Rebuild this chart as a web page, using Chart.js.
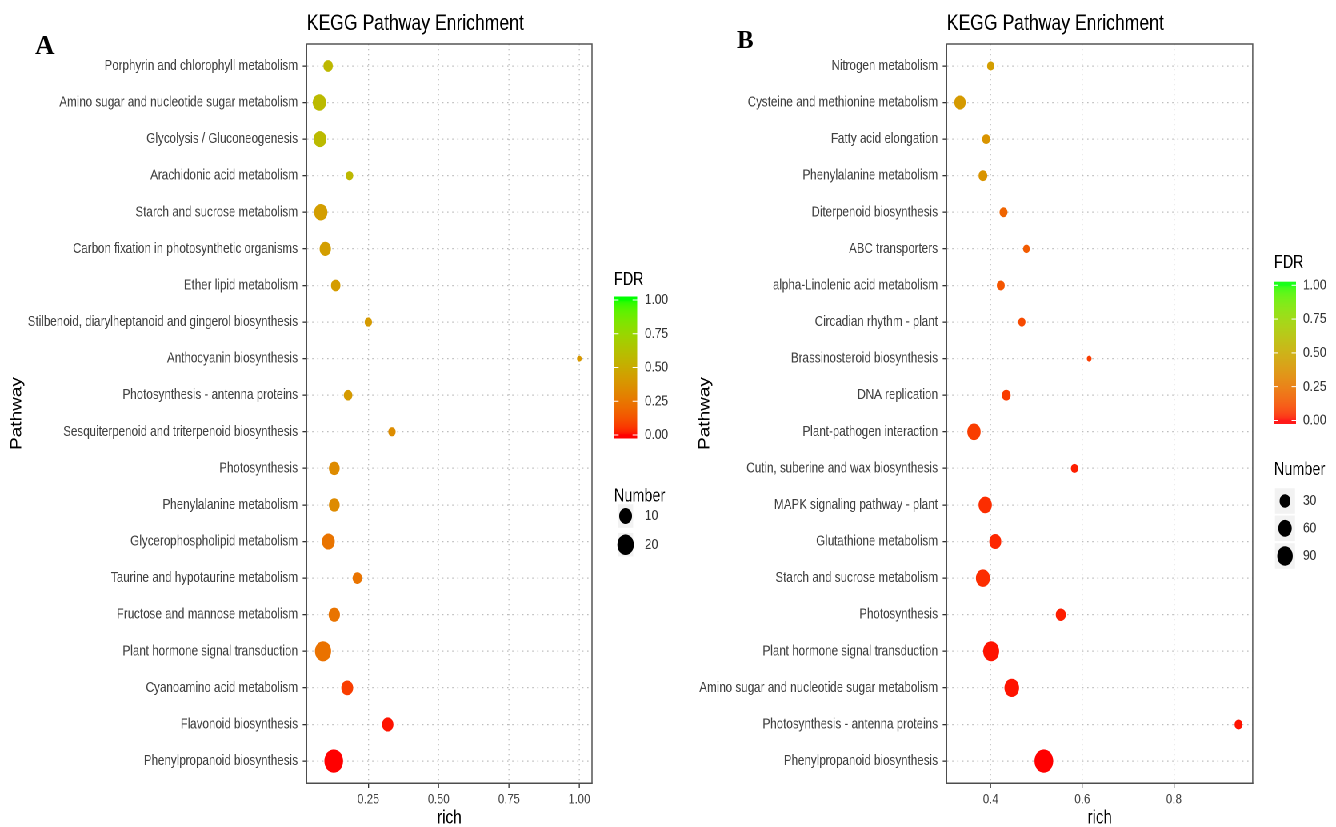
<!DOCTYPE html>
<html>
<head>
<meta charset="utf-8">
<script src="https://cdn.jsdelivr.net/npm/chart.js@4.4.1/dist/chart.umd.min.js"></script>
<style>
html,body{margin:0;padding:0;background:#fff;overflow:hidden;width:1336px;height:827px;}
#stage{position:absolute;left:0;top:0;width:1670px;height:827px;transform:scaleX(0.8);transform-origin:0 0;}
#cA{position:absolute;left:0;top:0;width:860px;height:827px;}
#cB{position:absolute;left:860px;top:0;width:810px;height:827px;}
.tag{position:absolute;font-family:"Liberation Serif","Times New Roman",serif;font-weight:bold;color:#000;line-height:1;}
</style>
</head>
<body>
<div id="stage">
  <canvas id="cA" width="860" height="827"></canvas>
  <canvas id="cB" width="810" height="827"></canvas>
</div>
<div class="tag" style="left:35px;top:32.4px;font-size:27px;">A</div>
<div class="tag" style="left:737px;top:27.3px;font-size:25px;">B</div>
<script>
// ---------------- DATA ----------------
const pathwaysA = [
  "Porphyrin and chlorophyll metabolism",
  "Amino sugar and nucleotide sugar metabolism",
  "Glycolysis / Gluconeogenesis",
  "Arachidonic acid metabolism",
  "Starch and sucrose metabolism",
  "Carbon fixation in photosynthetic organisms",
  "Ether lipid metabolism",
  "Stilbenoid, diarylheptanoid and gingerol biosynthesis",
  "Anthocyanin biosynthesis",
  "Photosynthesis - antenna proteins",
  "Sesquiterpenoid and triterpenoid biosynthesis",
  "Photosynthesis",
  "Phenylalanine metabolism",
  "Glycerophospholipid metabolism",
  "Taurine and hypotaurine metabolism",
  "Fructose and mannose metabolism",
  "Plant hormone signal transduction",
  "Cyanoamino acid metabolism",
  "Flavonoid biosynthesis",
  "Phenylpropanoid biosynthesis"
];
const richA   = [0.107, 0.076, 0.078, 0.183, 0.081, 0.097, 0.134, 0.250, 1.000, 0.178, 0.334, 0.129, 0.129, 0.108, 0.211, 0.129, 0.089, 0.175, 0.319, 0.127];
const numberA = [4, 11, 10, 2, 11, 7, 4, 2, 1, 3, 2, 6, 6, 10, 4, 7, 19, 8, 7, 28];
const fdrA    = [0.57, 0.58, 0.58, 0.57, 0.43, 0.43, 0.42, 0.41, 0.40, 0.41, 0.35, 0.34, 0.34, 0.24, 0.24, 0.24, 0.23, 0.07, 0.01, 0.00];

const pathwaysB = [
  "Nitrogen metabolism",
  "Cysteine and methionine metabolism",
  "Fatty acid elongation",
  "Phenylalanine metabolism",
  "Diterpenoid biosynthesis",
  "ABC transporters",
  "alpha-Linolenic acid metabolism",
  "Circadian rhythm - plant",
  "Brassinosteroid biosynthesis",
  "DNA replication",
  "Plant-pathogen interaction",
  "Cutin, suberine and wax biosynthesis",
  "MAPK signaling pathway - plant",
  "Glutathione metabolism",
  "Starch and sucrose metabolism",
  "Photosynthesis",
  "Plant hormone signal transduction",
  "Amino sugar and nucleotide sugar metabolism",
  "Photosynthesis - antenna proteins",
  "Phenylpropanoid biosynthesis"
];
const richB   = [0.400, 0.333, 0.390, 0.383, 0.428, 0.478, 0.422, 0.468, 0.615, 0.434, 0.3635, 0.583, 0.388, 0.410, 0.383, 0.553, 0.401, 0.446, 0.941, 0.516];
const numberB = [7, 35, 10, 14, 10, 5, 10, 7, 2, 14, 58, 7, 58, 42, 67, 23, 98, 77, 10, 150];
const fdrB    = [0.43, 0.41, 0.38, 0.38, 0.18, 0.15, 0.13, 0.10, 0.07, 0.07, 0.07, 0.02, 0.04, 0.03, 0.04, 0.02, 0.01, 0.01, 0.01, 0.00];

const xTicksA = [0.25, 0.50, 0.75, 1.00];
const xTickLabelsA = ["0.25", "0.50", "0.75", "1.00"];
const xTicksB = [0.4, 0.6, 0.8];
const xTickLabelsB = ["0.4", "0.6", "0.8"];
const fdrTicks = [0, 0.25, 0.5, 0.75, 1];
const fdrTickLabels = ["0.00", "0.25", "0.50", "0.75", "1.00"];
const sizeKeysA = [10, 20];
const sizeKeysB = [30, 60, 90];
const chartTitle = "KEGG Pathway Enrichment";

// ---------------- HELPERS ----------------
Chart.defaults.font.family = '"Liberation Sans", Arial, Helvetica, sans-serif';

function srgbToLin(c){c/=255;return c<=0.04045?c/12.92:Math.pow((c+0.055)/1.055,2.4);}
function linToSrgb(c){c=Math.max(0,Math.min(1,c));return 255*(c<=0.0031308?12.92*c:1.055*Math.pow(c,1/2.4)-0.055);}
const Xn=0.95047,Yn=1,Zn=1.08883;
function rgb2lab(r,g,b){
  const R=srgbToLin(r),G=srgbToLin(g),B=srgbToLin(b);
  const X=0.4124564*R+0.3575761*G+0.1804375*B, Y=0.2126729*R+0.7151522*G+0.0721750*B, Z=0.0193339*R+0.1191920*G+0.9503041*B;
  const f=t=>t>216/24389?Math.cbrt(t):(24389/27*t+16)/116;
  const fx=f(X/Xn),fy=f(Y/Yn),fz=f(Z/Zn);
  return [116*fy-16,500*(fx-fy),200*(fy-fz)];
}
function lab2rgb(L,a,b){
  const fy=(L+16)/116,fx=fy+a/500,fz=fy-b/200;
  const inv=t=>t*t*t>216/24389?t*t*t:(116*t-16)/(24389/27);
  const X=Xn*inv(fx),Y=Yn*inv(fy),Z=Zn*inv(fz);
  const R=3.2404542*X-1.5371385*Y-0.4985314*Z, G=-0.9692660*X+1.8760108*Y+0.0415560*Z, B=0.0556434*X-0.2040259*Y+1.0572252*Z;
  return [linToSrgb(R),linToSrgb(G),linToSrgb(B)].map(Math.round);
}
const LOW_LAB=rgb2lab(255,0,0), HIGH_LAB=rgb2lab(0,255,0);
function fdrColor(t){
  t=Math.max(0,Math.min(1,t));
  const l=LOW_LAB.map((v,i)=>v+(HIGH_LAB[i]-v)*t);
  const c=lab2rgb(l[0],l[1],l[2]);
  return `rgb(${c[0]},${c[1]},${c[2]})`;
}
const D_MIN = 5.9, D_MAX = 23.4;
function sizeScale(vmin, vmax){
  return n => (D_MIN + (D_MAX - D_MIN) * Math.sqrt(Math.max(0,(n - vmin)/(vmax - vmin)))) / 2;
}

const panelDecor = {
  id: 'panelDecor',
  afterDraw(chart, args, o) {
    const {ctx, chartArea: ca} = chart;
    ctx.save();
    ctx.strokeStyle = '#555'; ctx.lineWidth = 1.5; ctx.setLineDash([]);
    ctx.beginPath(); ctx.moveTo(ca.left, ca.top); ctx.lineTo(ca.right, ca.top); ctx.lineTo(ca.right, ca.bottom); ctx.stroke();
    ctx.fillStyle = '#000'; ctx.textAlign = 'left'; ctx.textBaseline = 'middle';
    ctx.font = '22px "Liberation Sans", Arial, sans-serif';
    ctx.fillText(o.title, ca.left, o.titleY);
    const L = o.legend;
    ctx.font = '18px "Liberation Sans", Arial, sans-serif';
    ctx.fillText('FDR', L.left, L.fdrTitleY);
    const h = L.barBottom - L.barTop, inset = h / 40;
    for (let yy = 0; yy < Math.ceil(h); yy++) {
      const v = 1 - ((yy + 0.5) - inset) / (h - 2 * inset);
      ctx.fillStyle = fdrColor(v);
      ctx.fillRect(L.left, L.barTop + yy, L.barW, Math.min(1.05, h - yy));
    }
    ctx.strokeStyle = '#fff'; ctx.lineWidth = 1;
    ctx.font = '15px "Liberation Sans", Arial, sans-serif';
    fdrTicks.forEach((v, i) => {
      const ty = L.barBottom - inset - v * (h - 2 * inset);
      ctx.beginPath();
      ctx.moveTo(L.left, ty); ctx.lineTo(L.left + L.barW / 5, ty);
      ctx.moveTo(L.left + L.barW * 4 / 5, ty); ctx.lineTo(L.left + L.barW, ty);
      ctx.stroke();
      ctx.fillStyle = '#333';
      ctx.fillText(fdrTickLabels[i], L.labelX, ty);
    });
    ctx.fillStyle = '#000';
    ctx.font = '18px "Liberation Sans", Arial, sans-serif';
    ctx.fillText('Number', L.left, L.numTitleY);
    const cx = L.left + L.barW / 2;
    ctx.font = '15px "Liberation Sans", Arial, sans-serif';
    o.keys.forEach((k, i) => {
      const cy = L.keyYs[i];
      ctx.fillStyle = '#f2f2f2';
      ctx.fillRect(cx - L.keyW / 2, cy - L.keyH / 2, L.keyW, L.keyH);
      ctx.fillStyle = '#000';
      ctx.beginPath(); ctx.arc(cx, cy, o.radius(k), 0, Math.PI * 2); ctx.fill();
      ctx.fillStyle = '#333';
      ctx.fillText(String(k), L.labelX, cy);
    });
    ctx.restore();
  }
};

function makeChart(canvas, cfg) {
  const n = cfg.labels.length;
  const radius = sizeScale(Math.min(...cfg.numbers), Math.max(...cfg.numbers));
  const data = cfg.labels.map((lab, i) => ({x: cfg.rich[i], y: i, n: cfg.numbers[i], fdr: cfg.fdr[i]}));
  return new Chart(canvas, {
    type: 'scatter',
    data: {datasets: [{
      data,
      pointRadius: c => radius(c.raw.n),
      pointHoverRadius: c => radius(c.raw.n),
      backgroundColor: c => fdrColor(c.raw.fdr),
      pointBorderWidth: 0,
      borderWidth: 0
    }]},
    options: {
      responsive: false, animation: false, events: [], devicePixelRatio: 2,
      layout: {padding: {left: 0, right: cfg.padRight, top: 44, bottom: 0}},
      plugins: {
        legend: {display: false}, tooltip: {enabled: false},
        panelDecor: {title: chartTitle, titleY: 24, legend: cfg.legend, keys: cfg.keys, radius}
      },
      scales: {
        x: {
          type: 'linear', min: cfg.xMin, max: cfg.xMax,
          afterBuildTicks: s => { s.ticks = cfg.xTicks.map(v => ({value: v})); },
          afterFit: s => { s.height = 44; },
          ticks: {callback: (v, i) => cfg.xTickLabels[i], color: '#444', font: {size: 14}, padding: 3, maxRotation: 0, autoSkip: false},
          grid: {color: '#bdbdbd', lineWidth: 1.3, tickLength: 5, tickColor: '#333', tickWidth: 1.3, tickBorderDash: [], drawTicks: true},
          border: {display: true, color: '#4d4d4d', width: 1.5, dash: [1.3, 3.7]},
          title: {display: true, text: 'rich', color: '#000', font: {size: 19, lineHeight: 0.9}, padding: 0}
        },
        y: {
          type: 'linear', reverse: true, min: -0.6, max: n - 0.4,
          afterBuildTicks: s => { s.ticks = cfg.labels.map((_, i) => ({value: i})); },
          afterFit: s => { s.width = cfg.yWidth; },
          ticks: {callback: (v, i) => cfg.labels[i], color: '#404040', font: {size: 14.5}, padding: 6, autoSkip: false},
          grid: {color: '#bdbdbd', lineWidth: 1.3, tickLength: 5, tickColor: '#333', tickWidth: 1.3, tickBorderDash: [], drawTicks: true},
          border: {display: true, color: '#4d4d4d', width: 1.5, dash: [1.6, 4.65]},
          title: {display: true, text: 'Pathway', color: '#000', font: {size: 19}, padding: {top: 10, bottom: 0}}
        }
      }
    },
    plugins: [panelDecor]
  });
}

makeChart(document.getElementById('cA'), {
  labels: pathwaysA, rich: richA, numbers: numberA, fdr: fdrA,
  xMin: 0.031, xMax: 1.045, xTicks: xTicksA, xTickLabels: xTickLabelsA,
  yWidth: 383.4, padRight: 120, keys: sizeKeysA,
  legend: {left: 767.5, fdrTitleY: 280, barTop: 296.5, barBottom: 438.5, barW: 29, labelX: 806, numTitleY: 496.7, keyYs: [516, 544.7], keyW: 18.75, keyH: 23.5}
});
makeChart(document.getElementById('cB'), {
  labels: pathwaysB, rich: richB, numbers: numberB, fdr: fdrB,
  xMin: 0.304, xMax: 0.972, xTicks: xTicksB, xTickLabels: xTickLabelsB,
  yWidth: 323.4, padRight: 104.1, keys: sizeKeysB,
  legend: {left: 732.5, fdrTitleY: 263, barTop: 281.7, barBottom: 424, barW: 27.5, labelX: 768.75, numTitleY: 470, keyYs: [501, 528.3, 556], keyW: 25, keyH: 25.5}
});
</script>
</body>
</html>
